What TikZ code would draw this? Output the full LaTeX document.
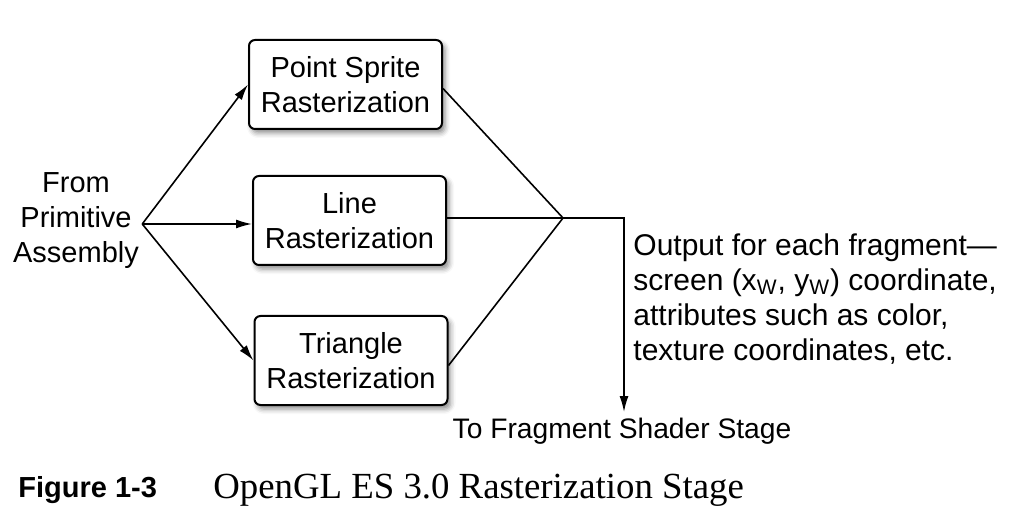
\documentclass[tikz,border=0pt]{standalone}
\usepackage{fontspec}
\setmainfont{Liberation Serif}
\setsansfont{Liberation Sans}
\usepackage{tikz}
\usetikzlibrary{
    arrows.meta,
    shadows.blur,
    calc,
    positioning
}

\tikzset{
    stagebox/.style={draw, line width=1pt, rounded corners=3pt, fill=white,
        minimum width=96.5pt, minimum height=44.5pt, align=center, inner sep=2pt,
        font=\sffamily\fontsize{14.5}{17.5}\selectfont,
        blur shadow={shadow xshift=1.5pt, shadow yshift=-2pt, shadow blur radius=2.5pt, shadow opacity=45}},
    plaintext/.style={font=\sffamily\fontsize{14.5}{17.5}\selectfont, inner sep=0pt},
    notetext/.style={font=\sffamily\fontsize{15}{17.5}\selectfont, inner sep=0pt},
    flow/.style={line width=0.8pt, -{Latex[length=8pt, width=4.5pt]}},
    wire/.style={line width=0.8pt}
}

\begin{document}
\begin{tikzpicture}[x=0.5pt, y=-0.5pt]
                        \useasboundingbox (0, 0) rectangle (1020, 517);

                        \node[plaintext, align=center] (src) at (76, 221) {From\\Primitive\\Assembly};

                        \node[stagebox] (ps) at (345.5, 84.5) {Point Sprite\\Rasterization};
                        \node[stagebox] (ln) at (349.5, 220.5) {Line\\Rasterization};
                        \node[stagebox] (tri) at (351, 360.5) {Triangle\\Rasterization};

                        \coordinate (j) at (563, 218);
                        \coordinate (k) at (624, 218);

                        \node[plaintext, font=\sffamily\fontsize{14.1}{17.5}\selectfont, anchor=north] (dst) at (622, 418) {To Fragment Shader Stage};
                        \node[notetext, align=left, anchor=north west] (out) at (633, 233)
                            {Output for each fragment---\\
                             screen (x\textsubscript{W}, y\textsubscript{W}) coordinate,\\
                             attributes such as color,\\
                             texture coordinates, etc.};

                        \coordinate (fork) at ($(src.east)+(3, 3)$);
                        \draw[flow] (fork) -- (ps.west);
                        \draw[flow] (fork) -- (ln.west |- fork);
                        \draw[flow] (fork) -- (tri.west);

                        \draw[wire] ($(ps.east)+(0, 4)$) -- (j);
                        \draw[wire] (ln.east |- j) -- (j);
                        \draw[wire] ($(tri.east)+(0, 5)$) -- (j);
                        \draw[flow] (j) -- (k) -- ($(k |- dst.north)+(0, -6)$);

                        \node[anchor=base west, inner sep=0pt, font=\sffamily\bfseries\fontsize{14.5}{17}\selectfont] (fig) at (18, 497) {Figure 1-3};
                        \node[anchor=base west, inner sep=0pt, font=\rmfamily\fontsize{18.4}{20}\selectfont] (cap) at (213, 498) {OpenGL ES 3.0 Rasterization Stage};
                    \end{tikzpicture}
\end{document}
